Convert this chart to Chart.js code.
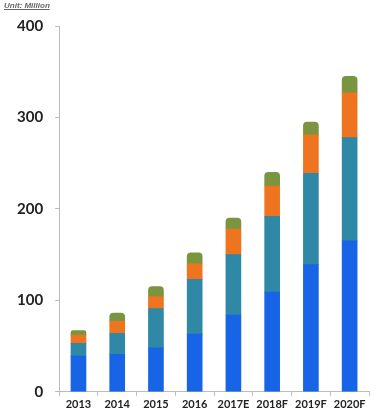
<!DOCTYPE html>
<html>
<head>
<meta charset="utf-8">
<script src="https://cdn.jsdelivr.net/npm/chart.js@4"></script>
<style>
  html, body { margin: 0; padding: 0; background: #fff; }
  #wrap { position: relative; width: 376px; height: 416px; }
  #unit {
    position: absolute; left: 4px; top: 1px;
    font: italic bold 8px "Liberation Sans", sans-serif;
    color: #666; text-decoration: underline;
  }
</style>
</head>
<body>
<div id="wrap">
  <div id="unit">Unit: Million</div>
  <canvas id="unitChart" width="376" height="416"></canvas>
</div>
<script>
const years = ['2013', '2014', '2015', '2016', '2017E', '2018F', '2019F', '2020F'];
const blueVals   = [39, 41, 48, 63, 84, 109, 139, 165];
const tealVals   = [14, 23, 43, 60, 66, 83, 100, 113];
const orangeVals = [9, 13, 13, 17, 28, 33, 42, 49];
const oliveVals  = [5, 9, 11, 12, 12, 15, 14, 18];
const yTicks = [0, 100, 200, 300, 400];

const ctx = document.getElementById('unitChart').getContext('2d');

function bar(label, data, color, top) {
    return {
        label: label,
        data: data,
        backgroundColor: color,
        borderWidth: 0,
        borderSkipped: false,
        borderRadius: top ? { topLeft: 4, topRight: 4 } : 0,
        barThickness: 15
    };
}

const unitChart = new Chart(ctx, {
    type: 'bar',
    data: {
        labels: years,
        datasets: [
            bar('A', blueVals, '#1764e6', false),
            bar('B', tealVals, '#2f88a6', false),
            bar('C', orangeVals, '#ef741f', false),
            bar('D', oliveVals, '#7b943f', true)
        ]
    },
    options: {
        responsive: false,
        animation: false,
        layout: { padding: { top: 26, right: 7, left: 5, bottom: 3 } },
        plugins: {
            legend: { display: false },
            tooltip: { enabled: false }
        },
        scales: {
            x: {
                stacked: true,
                grid: { display: true, drawOnChartArea: false, tickLength: 4, color: '#bbb' },
                border: { color: '#bbb' },
                ticks: {
                    color: '#222',
                    padding: 2,
                    autoSkip: false,
                    maxRotation: 0,
                    minRotation: 0,
                    font: { family: 'Lato', weight: 'bold', size: 11 }
                }
            },
            y: {
                stacked: true,
                min: 0,
                max: 400,
                afterBuildTicks: axis => { axis.ticks = yTicks.map(v => ({ value: v })); },
                grid: { display: true, drawOnChartArea: false, tickLength: 4, color: '#bbb' },
                border: { color: '#bbb' },
                ticks: {
                    color: '#222',
                    padding: 12,
                    font: { family: 'Lato', weight: 'bold', size: 15 }
                }
            }
        }
    }
});
</script>
</body>
</html>
